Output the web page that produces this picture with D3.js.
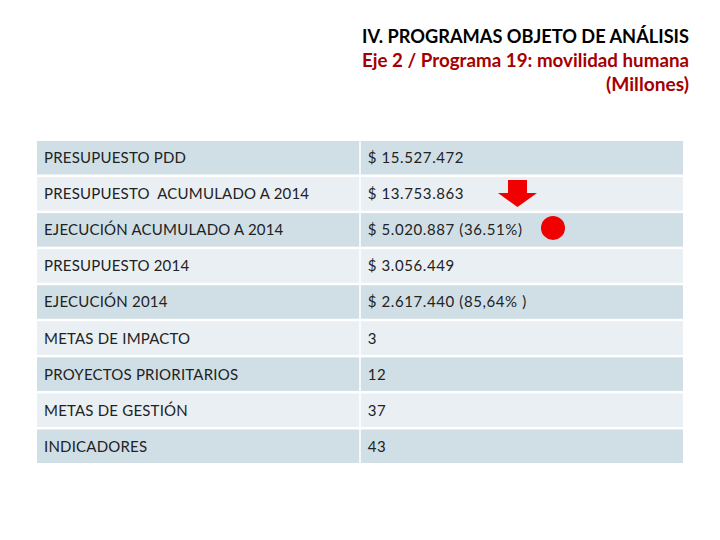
<!DOCTYPE html>
<html>
<head>
<meta charset="utf-8">
<script src="https://cdn.jsdelivr.net/npm/d3@7.9.0/dist/d3.min.js"></script>
<style>
  html, body { margin: 0; padding: 0; background: #fff; }
  svg { display: block; }
  text { white-space: pre; }
</style>
</head>
<body>
<div id="chart"></div>
<script>
const titleLines = [
  { text: 'IV. PROGRAMAS OBJETO DE ANÁLISIS', color: '#000000' },
  { text: 'Eje 2 / Programa 19: movilidad humana', color: '#a50000' },
  { text: '(Millones)', color: '#a50000' }
];
const rowLabels = [
  'PRESUPUESTO PDD',
  'PRESUPUESTO  ACUMULADO A 2014',
  'EJECUCIÓN ACUMULADO A 2014',
  'PRESUPUESTO 2014',
  'EJECUCIÓN 2014',
  'METAS DE IMPACTO',
  'PROYECTOS PRIORITARIOS',
  'METAS DE GESTIÓN',
  'INDICADORES'
];
const rowValues = [
  '$ 15.527.472',
  '$ 13.753.863',
  '$ 5.020.887 (36.51%)',
  '$ 3.056.449',
  '$ 2.617.440 (85,64% )',
  '3',
  '12',
  '37',
  '43'
];
const columns = ['label', 'value'];

const width = 720, height = 540;
const font = 'Lato, "Open Sans", sans-serif';

const svg = d3.select('#chart').append('svg')
  .attr('width', width)
  .attr('height', height);

// title block, right aligned
const titleY = d3.scalePoint().domain(d3.range(titleLines.length)).range([43, 91]);
const titleWidths = [327, 327, 83];
titleLines.forEach((t, i) => {
  svg.append('text')
    .attr('x', 689)
    .attr('y', titleY(i))
    .attr('text-anchor', 'end')
    .attr('font-family', font)
    .attr('font-weight', 'bold')
    .attr('font-size', 18)
    .attr('fill', t.color)
    .attr('textLength', titleWidths[i])
    .attr('lengthAdjust', 'spacingAndGlyphs')
    .text(t.text);
});

const y = d3.scaleBand()
  .domain(d3.range(rowLabels.length))
  .range([141, 463])
  .paddingInner(0.07);

const x = d3.scaleBand()
  .domain(columns)
  .range([37, 683])
  .paddingInner(0.0047);

const rows = svg.append('g').selectAll('g')
  .data(rowLabels.map((label, i) => ({ label, value: rowValues[i], i })))
  .join('g')
  .attr('transform', d => `translate(0,${y(d.i)})`);

columns.forEach(col => {
  rows.append('rect')
    .attr('x', x(col))
    .attr('width', x.bandwidth())
    .attr('height', y.bandwidth())
    .attr('fill', d => d.i % 2 === 0 ? '#d0dfe6' : '#e9eff3');

  rows.append('text')
    .attr('x', x(col) + 7)
    .attr('y', y.bandwidth() / 2 + 5.5)
    .attr('font-family', font)
    .attr('font-size', 15)
    .attr('letter-spacing', col === 'value' ? 0.6 : 0.2)
    .attr('fill', '#222')
    .text(d => d[col]);
});

// red marker arrow (between row 2 and 3) and red dot on row 3
const ax = 517.5, aTop = y(1) + 3, aNeck = y(1) + 16, aTip = y(1) + 30;
svg.append('path')
  .attr('d', d3.line()([
    [ax - 9.5, aTop], [ax + 9.5, aTop], [ax + 9.5, aNeck], [ax + 19.5, aNeck],
    [ax, aTip], [ax - 19.5, aNeck], [ax - 9.5, aNeck]
  ]) + 'Z')
  .attr('fill', '#f00000');

svg.append('circle')
  .attr('cx', 553)
  .attr('cy', y(2) + y.bandwidth() / 2 - 2)
  .attr('r', 12)
  .attr('fill', '#f00000');
</script>
</body>
</html>
